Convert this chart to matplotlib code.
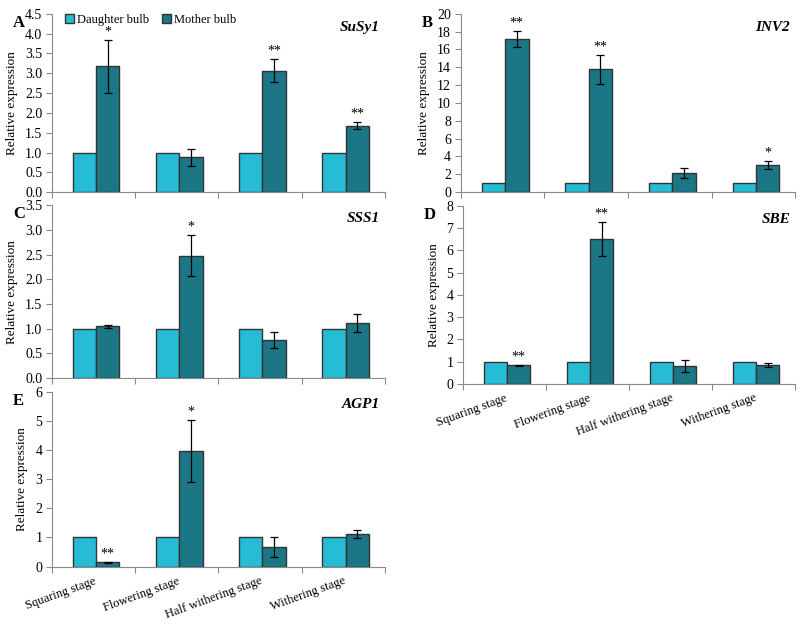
"""Relative expression of starch/sucrose genes in daughter vs mother bulbs."""

import numpy as np
import matplotlib.pyplot as plt

plt.rcParams['font.family'] = ['Liberation Serif', 'DejaVu Serif']

stages = ['Squaring stage', 'Flowering stage', 'Half withering stage', 'Withering stage']
daughter = [1.0, 1.0, 1.0, 1.0]

susy1 = [3.17, 0.88, 3.06, 1.68]
susy1_err = [0.67, 0.22, 0.29, 0.08]
susy1_sig = ['*', '', '**', '**']

inv2 = [17.2, 13.75, 2.15, 3.05]
inv2_err = [0.9, 1.6, 0.6, 0.45]
inv2_sig = ['**', '**', '', '*']

sss1 = [1.05, 2.48, 0.78, 1.12]
sss1_err = [0.03, 0.42, 0.16, 0.18]
sss1_sig = ['', '*', '', '']

sbe = [0.83, 6.52, 0.80, 0.85]
sbe_err = [0.01, 0.77, 0.28, 0.08]
sbe_sig = ['**', '**', '', '']

agp1 = [0.15, 3.97, 0.66, 1.13]
agp1_err = [0.01, 1.05, 0.34, 0.14]
agp1_sig = ['**', '*', '', '']

LIGHT = '#27bcd6'
DARK = '#1b7786'
EDGE = '#333333'
GRID = '#8a8a8a'


def panel(fig, rect, mother, err, sig, gene, letter, ymax, step, fmt, show_x=False, legend=False):
    ax = fig.add_axes(rect)
    x = np.arange(len(stages))
    w = 0.28
    ax.bar(x - 0.11, daughter, w, color=LIGHT, edgecolor=EDGE, linewidth=1, label='Daughter bulb', zorder=2)
    ax.bar(x + 0.17, mother, w, color=DARK, edgecolor=EDGE, linewidth=1, label='Mother bulb', zorder=2)
    ax.errorbar(x + 0.17, mother, yerr=err, fmt='none', ecolor='black', elinewidth=0.9,
                capsize=3, capthick=0.9, zorder=3)
    for xi, m, e, s in zip(x, mother, err, sig):
        if s:
            ax.text(xi + 0.17, m + e + ymax * 0.008, s, ha='center', va='bottom', fontsize=10)

    ax.set_xlim(-0.5, 3.5)
    ax.set_ylim(0, ymax)
    ticks = np.arange(0, ymax + step / 2, step)
    ax.set_yticks(ticks)
    ax.set_yticklabels([fmt.format(t) for t in ticks], fontsize=10)
    ax.set_xticks([-0.5, 0.5, 1.5, 2.5, 3.5])
    ax.set_xticklabels([])
    ax.tick_params(axis='x', length=4, color=GRID)
    ax.tick_params(axis='y', length=4, color=GRID, pad=3)
    if show_x:
        ax.set_xticks(x, minor=True)
        ax.set_xticklabels(stages, minor=True, rotation=20, ha='right', va='top',
                           rotation_mode='anchor', fontsize=9)
        ax.tick_params(axis='x', which='minor', length=0, pad=6)
    for side in ['top', 'right']:
        ax.spines[side].set_visible(False)
    for side in ['left', 'bottom']:
        ax.spines[side].set_color(GRID)
    ax.set_ylabel('Relative expression', fontsize=9.5, labelpad=5)
    ax.text(0.985, 0.925, gene, transform=ax.transAxes, ha='right', va='center',
            fontsize=11, fontweight='bold', fontstyle='italic')
    ax.text(-0.1, 0.95, letter, transform=ax.transAxes, ha='center', va='center',
            fontsize=12, fontweight='bold')
    if legend:
        ax.legend(loc='center left', bbox_to_anchor=(0.04, 0.966), ncol=2, frameon=False, fontsize=9,
                  handlelength=0.7, handleheight=0.7, handletextpad=0.2, columnspacing=1.1,
                  borderaxespad=0, borderpad=0)
    return ax


fig = plt.figure(figsize=(8, 6.24), dpi=100)
panel(fig, [0.065, 0.692, 0.416, 0.286], susy1, susy1_err, susy1_sig, 'SuSy1', 'A', 4.5, 0.5, '{:.1f}', legend=True)
panel(fig, [0.576, 0.692, 0.418, 0.286], inv2, inv2_err, inv2_sig, 'INV2', 'B', 20, 2, '{:.0f}')
panel(fig, [0.065, 0.394, 0.416, 0.277], sss1, sss1_err, sss1_sig, 'SSS1', 'C', 3.5, 0.5, '{:.1f}')
panel(fig, [0.579, 0.385, 0.415, 0.285], sbe, sbe_err, sbe_sig, 'SBE', 'D', 8, 1, '{:.0f}', show_x=True)
panel(fig, [0.065, 0.092, 0.416, 0.28], agp1, agp1_err, agp1_sig, 'AGP1', 'E', 6, 1, '{:.0f}', show_x=True)

plt.savefig('out.png', dpi=100)
plt.close()
